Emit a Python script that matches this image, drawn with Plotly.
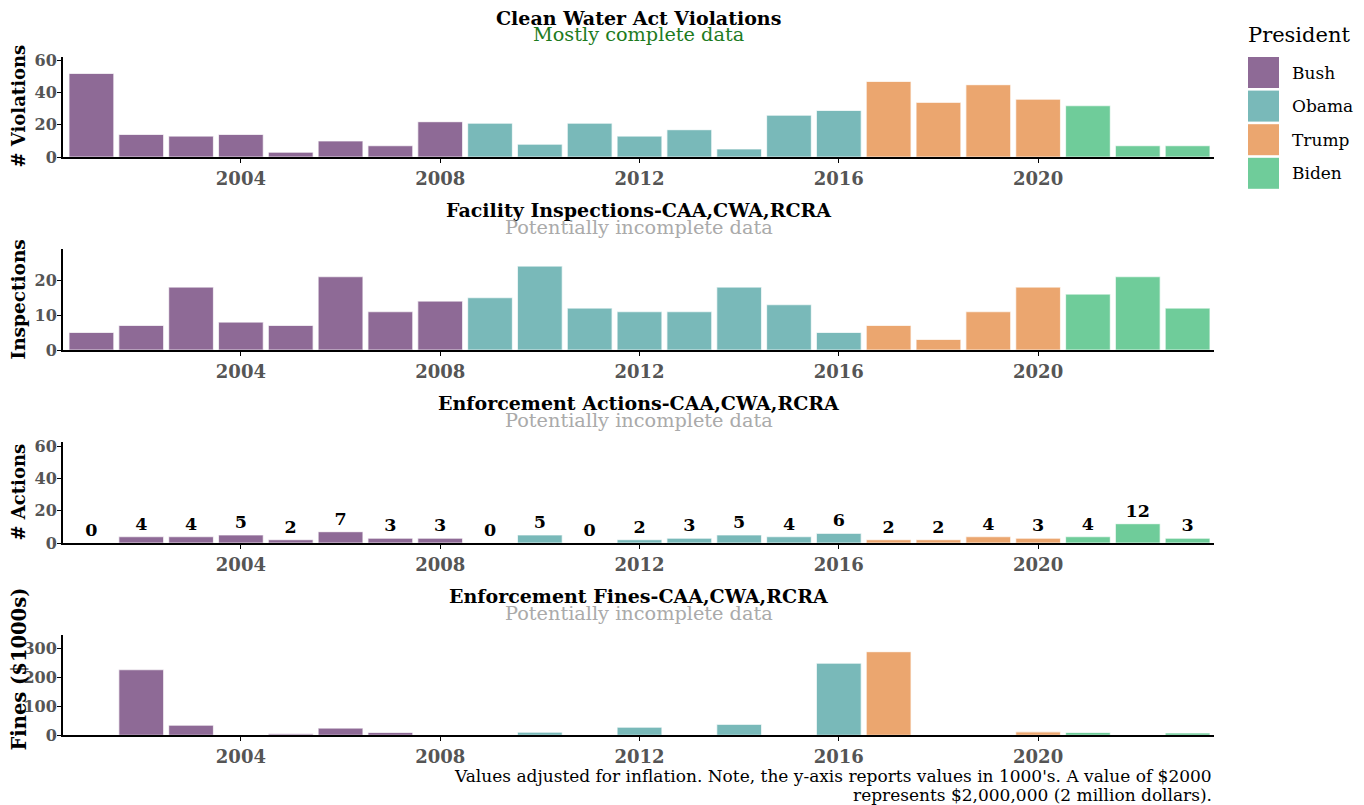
import plotly.graph_objects as go

# ---------------- data ----------------
years = [2001, 2002, 2003, 2004, 2005, 2006, 2007, 2008, 2009, 2010, 2011, 2012,
         2013, 2014, 2015, 2016, 2017, 2018, 2019, 2020, 2021, 2022, 2023]
presidents = ["Bush", "Bush", "Bush", "Bush", "Bush", "Bush", "Bush", "Bush",
              "Obama", "Obama", "Obama", "Obama", "Obama", "Obama", "Obama", "Obama",
              "Trump", "Trump", "Trump", "Trump",
              "Biden", "Biden", "Biden"]
president_order = ["Bush", "Obama", "Trump", "Biden"]
president_colors = ["#8E6A96", "#79B9B9", "#EBA66F", "#6FCC9A"]

violations = [52, 14, 13, 14, 3, 10, 7, 22, 21, 8, 21, 13, 17, 5, 26, 29, 47, 34, 45, 36, 32, 7, 7]
inspections = [5, 7, 18, 8, 7, 21, 11, 14, 15, 24, 12, 11, 11, 18, 13, 5, 7, 3, 11, 18, 16, 21, 12]
actions = [0, 4, 4, 5, 2, 7, 3, 3, 0, 5, 0, 2, 3, 5, 4, 6, 2, 2, 4, 3, 4, 12, 3]
fines = [0, 228, 35, 0, 5, 25, 10, 0, 0, 11, 0, 28, 0, 38, 0, 250, 290, 0, 0, 12, 10, 0, 8]

panel_titles = ["Clean Water Act Violations", "Facility Inspections-CAA,CWA,RCRA",
                "Enforcement Actions-CAA,CWA,RCRA", "Enforcement Fines-CAA,CWA,RCRA"]
panel_subtitles = ["Mostly complete data", "Potentially incomplete data",
                   "Potentially incomplete data", "Potentially incomplete data"]
y_titles = ["# Violations", "Inspections", "# Actions", "Fines ($1000s)"]
x_tick_labels = [2004, 2008, 2012, 2016, 2020]
footnote_lines = ["Values adjusted for inflation. Note, the y-axis reports values in 1000's. A value of $2000",
                  "represents $2,000,000 (2 million dollars)."]

# ---------------- layout helpers ----------------
W, H = 1364, 805
OFF = 8  # page offset of the figure in the screenshot
L, R = 63 - OFF, 1214 - OFF
SERIF = "DejaVu Serif, serif"


def fx(p):
    return (p - OFF - L) / (R - L)


def fy(p):
    return (H - (p - OFF)) / H


panels_data = [violations, inspections, actions, fines]
panel_px = [(56.7, 157), (249.3, 350), (442.3, 543), (635, 735.3)]
y_ranges = [max(violations) * 1.2, max(inspections) * 1.2, max(violations) * 1.2, max(fines) * 1.2]
y_dticks = [20, 10, 20, 100]
sub_colors = ["#1E7B1E", "#AAAAAA", "#AAAAAA", "#AAAAAA"]
ytitle_sizes = [18, 18.5, 18, 19.5]
ytitle_centers = [106.5, 299.5, 492.5, 669]
ytitle_x = [18, 18, 18, 18.5]

fig = go.Figure()
layout = dict(
    width=W, height=H,
    margin=dict(l=L, r=W - R, t=0, b=0, autoexpand=False),
    plot_bgcolor="white", paper_bgcolor="white",
    showlegend=False,
    font=dict(family=SERIF, color="black"),
    bargap=0.1,
)
annotations = []
shapes = []

for i, vals in enumerate(panels_data):
    n = i + 1
    xa = "x" if n == 1 else f"x{n}"
    ya = "y" if n == 1 else f"y{n}"
    for pres, col in zip(president_order, president_colors):
        xs = [yr for yr, p in zip(years, presidents) if p == pres]
        ys = [v for v, p in zip(vals, presidents) if p == pres]
        kw = {}
        if i == 2:
            kw = dict(text=[str(v) for v in ys], textposition="outside", cliponaxis=False,
                      constraintext="none",
                      textfont=dict(family=SERIF, size=17.5, color="black", weight="bold"))
        fig.add_trace(go.Bar(x=xs, y=ys, name=pres, marker=dict(color=col,
                             line=dict(color="rgba(255,255,255,0.7)", width=1.2)),
                             width=0.9, xaxis=xa, yaxis=ya, showlegend=False, **kw))
    top, bot = panel_px[i]
    layout[f"xaxis{'' if n == 1 else n}"] = dict(
        domain=[0, 1], anchor=ya, range=[2000.43, 2023.53], automargin=False,
        tickvals=x_tick_labels, ticktext=[str(t) for t in x_tick_labels],
        showline=True, linecolor="black", linewidth=2, ticks="outside", ticklen=4,
        tickcolor="black", showgrid=False, zeroline=False,
        tickfont=dict(family=SERIF, size=18, color="#555555", weight="bold"),
    )
    layout[f"yaxis{'' if n == 1 else n}"] = dict(
        domain=[fy(bot), fy(top)], anchor=xa, range=[0, y_ranges[i]], dtick=y_dticks[i],
        automargin=False, ticklabelstandoff=-3,
        showline=True, linecolor="black", linewidth=2, ticks="outside", ticklen=4,
        tickcolor="black", showgrid=False, zeroline=False,
        tickfont=dict(family=SERIF, size=16, color="#555555", weight="bold"),
    )
    tcy = top - 39
    annotations.append(dict(text=panel_titles[i], x=0.5, y=fy(tcy), xref="paper", yref="paper",
                            xanchor="center", yanchor="middle", showarrow=False,
                            font=dict(family=SERIF, size=19, color="black", weight="bold")))
    annotations.append(dict(text=panel_subtitles[i], x=0.5, y=fy(tcy + 17), xref="paper", yref="paper",
                            xanchor="center", yanchor="middle", showarrow=False,
                            font=dict(family=SERIF, size=19.3, color=sub_colors[i])))
    annotations.append(dict(text=y_titles[i], x=fx(ytitle_x[i]), y=fy(ytitle_centers[i]),
                            xref="paper", yref="paper",
                            xanchor="center", yanchor="middle", showarrow=False, textangle=-90,
                            font=dict(family=SERIF, size=ytitle_sizes[i], color="black", weight="bold")))

# footnote
for j, line in enumerate(footnote_lines):
    annotations.append(dict(text=line, x=1, y=fy(776 + 19 * j), xref="paper", yref="paper",
                            xanchor="right", yanchor="middle", align="right", showarrow=False,
                            font=dict(family=SERIF, size=17, color="black")))

# legend
annotations.append(dict(text="President", x=fx(1246), y=fy(35), xref="paper", yref="paper",
                        xanchor="left", yanchor="middle", showarrow=False,
                        font=dict(family=SERIF, size=21, color="black")))
for k, (pres, col) in enumerate(zip(president_order, president_colors)):
    y0 = 57 + k * 33.6
    shapes.append(dict(type="rect", xref="paper", yref="paper", x0=fx(1248), x1=fx(1279),
                       y0=fy(y0 + 31), y1=fy(y0), fillcolor=col, line=dict(width=0)))
    annotations.append(dict(text=pres, x=fx(1290), y=fy(y0 + 15.5), xref="paper", yref="paper",
                            xanchor="left", yanchor="middle", showarrow=False,
                            font=dict(family=SERIF, size=17, color="black")))

layout["annotations"] = annotations
layout["shapes"] = shapes
fig.update_layout(**layout)
fig.write_html("out.html")
